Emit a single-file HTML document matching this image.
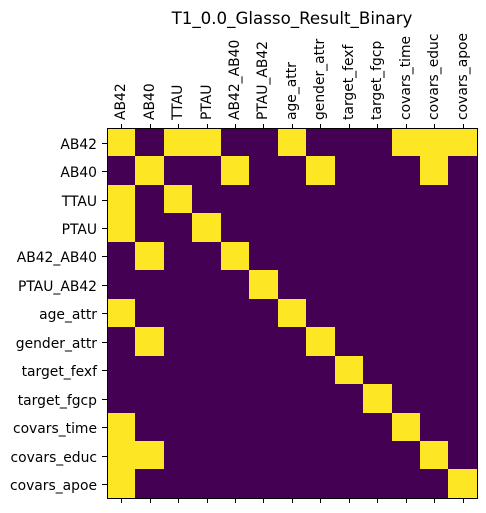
<!DOCTYPE html>
<html>
<head>
<meta charset="utf-8">
<style>
html,body{margin:0;padding:0;background:#fff;width:486px;height:513px;overflow:hidden}
svg{display:block}
text{font-family:"DejaVu Sans","Liberation Sans",sans-serif;fill:#000}
</style>
</head>
<body>
<svg id="chart" xmlns="http://www.w3.org/2000/svg" width="486" height="513" viewBox="0 0 486 513" shape-rendering="crispEdges">
<text x="292" y="24" font-size="16.67" text-anchor="middle" shape-rendering="auto">T1_0.0_Glasso_Result_Binary</text>
<g id="cells"></g>
<g id="ticks"></g>
<g id="labels"></g>
<rect x="107.5" y="128.5" width="370" height="370" fill="none" stroke="#000" stroke-width="1"></rect>
</svg>
<script>
const xLabels = ["AB42","AB40","TTAU","PTAU","AB42_AB40","PTAU_AB42","age_attr","gender_attr","target_fexf","target_fgcp","covars_time","covars_educ","covars_apoe"];
const yLabels = ["AB42","AB40","TTAU","PTAU","AB42_AB40","PTAU_AB42","age_attr","gender_attr","target_fexf","target_fgcp","covars_time","covars_educ","covars_apoe"];
const matrix = [
[1,0,1,1,0,0,1,0,0,0,1,1,1],
[0,1,0,0,1,0,0,1,0,0,0,1,0],
[1,0,1,0,0,0,0,0,0,0,0,0,0],
[1,0,0,1,0,0,0,0,0,0,0,0,0],
[0,1,0,0,1,0,0,0,0,0,0,0,0],
[0,0,0,0,0,1,0,0,0,0,0,0,0],
[1,0,0,0,0,0,1,0,0,0,0,0,0],
[0,1,0,0,0,0,0,1,0,0,0,0,0],
[0,0,0,0,0,0,0,0,1,0,0,0,0],
[0,0,0,0,0,0,0,0,0,1,0,0,0],
[1,0,0,0,0,0,0,0,0,0,1,0,0],
[1,1,0,0,0,0,0,0,0,0,0,1,0],
[1,0,0,0,0,0,0,0,0,0,0,0,1]
];
const NS = "http://www.w3.org/2000/svg";
const plotLeft = 106.95, plotTop = 127.95, plotWidth = 370, plotHeight = 370;
const frameLeft = 107, frameTop = 128, frameBottom = 498;
const xScale = i => plotLeft + plotWidth * i / xLabels.length;
const yScale = i => plotTop + plotHeight * i / yLabels.length;
const colorScale = v => v >= 0.5 ? "#fde725" : "#440154";
const cells = document.getElementById("cells");
const ticks = document.getElementById("ticks");
const labels = document.getElementById("labels");
function make(tag, attrs, parent) {
  const el = document.createElementNS(NS, tag);
  for (const k in attrs) el.setAttribute(k, attrs[k]);
  parent.appendChild(el);
  return el;
}
matrix.forEach((row, r) => {
  row.forEach((v, c) => {
    const x0 = Math.round(xScale(c)), x1 = Math.round(xScale(c + 1));
    const y0 = Math.round(yScale(r)), y1 = Math.round(yScale(r + 1));
    const rect = make("rect", {x: x0, y: y0, width: x1 - x0, height: y1 - y0, fill: colorScale(v)}, cells);
    
    
  });
});
const tickLen = 5;
xLabels.forEach((name, i) => {
  const x = Math.round(xScale(i + 0.5)) + 0.5;
  const topTick = make("line", {x1: x, x2: x, y1: frameTop - tickLen + 1, y2: frameTop + 1, stroke: "#000", "stroke-width": 1}, ticks);
  
  
  const bottomTick = make("line", {x1: x, x2: x, y1: frameBottom, y2: frameBottom + tickLen, stroke: "#000", "stroke-width": 1}, ticks);
  
  
  const tx = x + 3.5;
  const ty = 120;
  const label = make("text", {x: tx, y: ty, "font-size": 13.89, transform: "rotate(-90 " + tx + " " + ty + ")", "shape-rendering": "auto"}, labels);
  label.textContent = name;
  
  
});
yLabels.forEach((name, i) => {
  const pixel = Math.round(yScale(i + 0.5) + 0.45);
  const y = pixel + 0.5;
  const tick = make("line", {x1: frameLeft - tickLen, x2: frameLeft + 1, y1: y, y2: y, stroke: "#000", "stroke-width": 1}, ticks);
  
  
  const label = make("text", {x: frameLeft - 10, y: pixel + 6, "font-size": 13.89, "text-anchor": "end", "shape-rendering": "auto"}, labels);
  label.textContent = name;
  
  
});
</script>
</body>
</html>
